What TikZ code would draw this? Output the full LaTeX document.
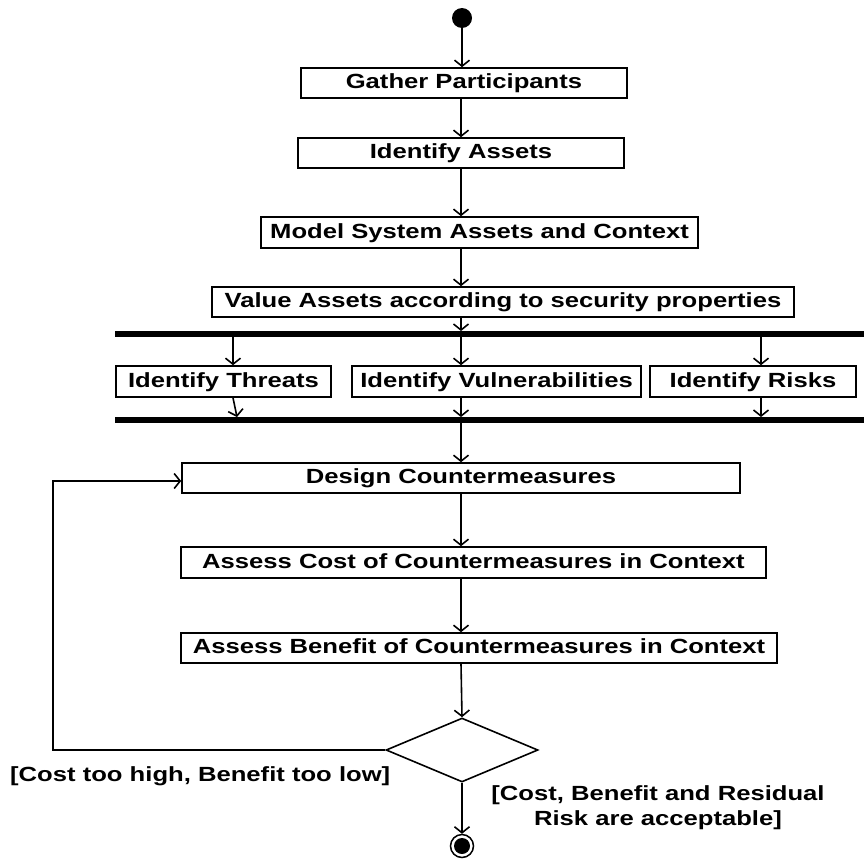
\documentclass[tikz,border=0pt]{standalone}
\usepackage{fontspec}
\usetikzlibrary{arrows.meta,shapes.geometric}
% Wide bold sans used for every label in the activity diagram
\newfontfamily\dfont{Liberation Sans}[FakeStretch=1.25]
\begin{document}
\begin{tikzpicture}[x=1pt,y=-1pt,
  act/.style={draw, line width=1.6pt, inner sep=0pt,
    font=\dfont\bfseries\fontsize{20.5}{24}\selectfont,
    text height=14.5pt, text depth=3pt},
  arr/.style={line width=1.6pt,
    -{Straight Barb[length=6pt,width=15pt,line width=1.6pt]}},
  syncbar/.style={fill=black, inner sep=0pt, minimum height=5.5pt,
    minimum width=749pt},
  guard/.style={inner sep=0pt, align=center,
    font=\dfont\bfseries\fontsize{20.5}{25}\selectfont}]
\useasboundingbox (0,0) rectangle (864,862);
\fill[white] (0,0) rectangle (864,862);

% column positions of the control flow
\coordinate (m)  at (461,0);
\coordinate (c1) at (233,0);
\coordinate (c1b) at (237,0);
\coordinate (c3) at (761,0);
\coordinate (lp) at (53,481);

% initial node
\node[circle, fill=black, inner sep=0pt, minimum size=20pt] (start) at (462,18) {};

% sequential activities
\node[act, minimum width=326pt, minimum height=30pt] (gp)  at (464,83)    {Gather Participants};
\node[act, minimum width=326pt, minimum height=30pt] (ia)  at (461,153)   {Identify Assets};
\node[act, minimum width=437pt, minimum height=31pt] (msa) at (479.5,232.5) {Model System Assets and Context};
\node[act, minimum width=582pt, minimum height=30pt] (val) at (503,302)   {Value Assets according to security properties};

% fork / join bars and parallel activities
\node[syncbar] (fork) at (489.5,334) {};
\node[act, minimum width=215pt, minimum height=31pt] (thr) at (223.5,381.5) {Identify Threats};
\node[act, minimum width=289pt, minimum height=31pt] (vul) at (496.5,381.5) {Identify Vulnerabilities};
\node[act, minimum width=206pt, minimum height=31pt] (rsk) at (753,381.5)   {Identify Risks};
\node[syncbar] (join) at (489.5,420) {};

% countermeasure loop
\node[act, minimum width=558pt, minimum height=30pt] (dc)   at (461,478)   {Design Countermeasures};
\node[act, minimum width=585pt, minimum height=31pt] (cost) at (473.5,562.5) {Assess Cost of Countermeasures in Context};
\node[act, minimum width=596pt, minimum height=30pt] (ben)  at (479,648)   {Assess Benefit of Countermeasures in Context};
\node[diamond, draw, line width=1.6pt, inner sep=0pt, minimum width=152pt,
      minimum height=64pt] (dia) at (462,750) {};

% final node
\node[circle, draw, line width=1.5pt, inner sep=0pt, minimum size=23pt,
      path picture={\fill (path picture bounding box.center) circle (8pt);}] (fin) at (462,846) {};

% guards
\node[guard, anchor=base west] (g1) at (10,781) {[Cost too high, Benefit too low]};
\node[guard, anchor=north] (g2) at (658,785) {[Cost, Benefit and Residual\\Risk are acceptable]};

% flows
\draw[arr] (start.south) -- (start.south |- gp.north);
\draw[arr] (gp.south -| m)  -- (ia.north -| m);
\draw[arr] (ia.south -| m)  -- (msa.north -| m);
\draw[arr] (msa.south -| m) -- (val.north -| m);
\draw[arr] (val.south -| m) -- (fork.north -| m);
\draw[arr] (fork.south -| c1) -- (thr.north -| c1);
\draw[arr] (fork.south -| m)  -- (vul.north -| m);
\draw[arr] (fork.south -| c3) -- (rsk.north -| c3);
\draw[arr] (thr.south -| c1) -- (join.north -| c1b);
\draw[arr] (vul.south -| m)  -- (join.north -| m);
\draw[arr] (rsk.south -| c3) -- (join.north -| c3);
\draw[arr] (join.south -| m) -- (dc.north -| m);
\draw[arr] (dc.south -| m)   -- (cost.north -| m);
\draw[arr] (cost.south -| m) -- (ben.north -| m);
\draw[arr] (ben.south -| m)  -- (dia.north);
\draw[arr] (dia.south) -- (fin.north);
\draw[arr] (dia.west) -| (lp) -- (lp -| dc.west);
\end{tikzpicture}
\end{document}
